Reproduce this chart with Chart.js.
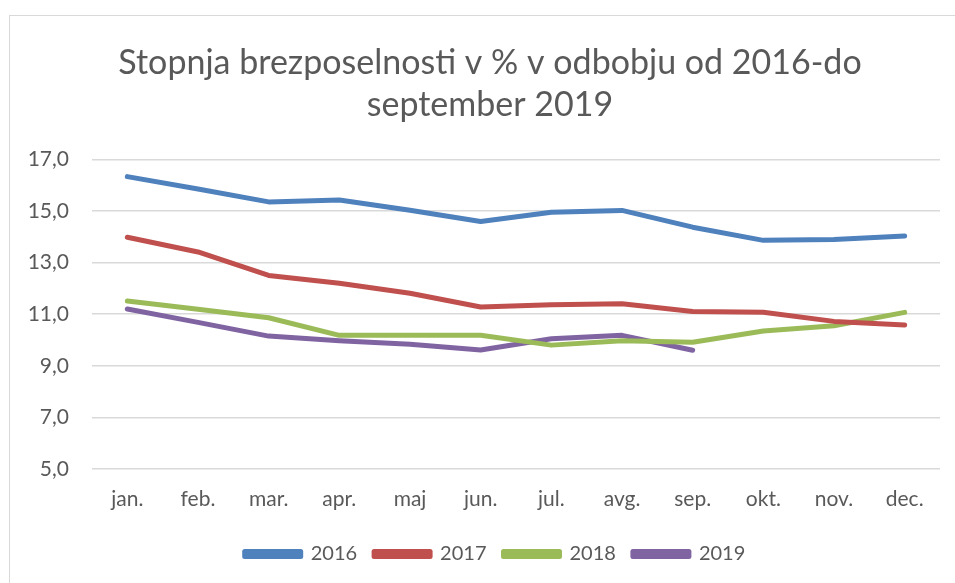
<!DOCTYPE html>
<html>
<head>
<meta charset="utf-8">
<script src="https://cdn.jsdelivr.net/npm/chart.js@4"></script>
<style>
  body { margin: 0; background: #fff; overflow: hidden; }
  #frame {
    position: absolute; left: 9px; top: 15px;
    width: 1000px; height: 600px;
    border: 1px solid #d9d9d9; box-sizing: border-box;
  }
  #myChart { position: absolute; left: 0; top: 0; }
</style>
</head>
<body>
<div id="frame">
  <canvas id="myChart" width="945" height="567"></canvas>
</div>
<script>
const months = ["jan.", "feb.", "mar.", "apr.", "maj", "jun.", "jul.", "avg.", "sep.", "okt.", "nov.", "dec."];

const y2016 = [16.33, 15.85, 15.35, 15.42, 15.03, 14.59, 14.95, 15.02, 14.37, 13.86, 13.89, 14.03];
const y2017 = [13.98, 13.41, 12.50, 12.20, 11.81, 11.28, 11.36, 11.40, 11.10, 11.07, 10.72, 10.58];
const y2018 = [11.51, 11.19, 10.86, 10.18, 10.18, 10.18, 9.80, 9.97, 9.91, 10.35, 10.55, 11.07];
const y2019 = [11.20, 10.68, 10.15, 9.97, 9.83, 9.61, 10.05, 10.18, 9.60];

const yTicks = [5, 7, 9, 11, 13, 15, 17];

const textColor = "#595959";
const fontFamily = "Lato, 'Open Sans', sans-serif";

function series(label, data, color) {
  return {
    label: label,
    data: data,
    borderColor: color,
    backgroundColor: color,
    borderWidth: 5,
    borderCapStyle: "round",
    borderJoinStyle: "round",
    pointRadius: 0,
    tension: 0,
    fill: false,
  };
}

// title and legend in the original sit a bit right of the canvas centre
const shiftBlocks = {
  id: "shiftBlocks",
  afterLayout(chart) {
    chart.legend.left += 20;
    chart.legend.right += 20;
    chart.titleBlock.left += 15;
    chart.titleBlock.right += 15;
  },
};

const ctx = document.getElementById("myChart");

new Chart(ctx, {
  type: "line",
  data: {
    labels: months,
    datasets: [
      series("2016", y2016, "#4f81bd"),
      series("2017", y2017, "#c0504d"),
      series("2018", y2018, "#9bbb59"),
      series("2019", y2019, "#8064a2"),
    ],
  },
  options: {
    responsive: false,
    animation: false,
    layout: { padding: { left: 0, right: 15, top: 0, bottom: 9 } },
    plugins: {
      title: {
        display: true,
        text: ["Stopnja brezposelnosti v % v odbobju od 2016-do", "september 2019"],
        color: textColor,
        font: { family: fontFamily, size: 34, weight: "normal", lineHeight: 1.24 },
        padding: { top: 26, bottom: 33 },
      },
      legend: {
        position: "bottom",
        labels: {
          color: textColor,
          font: { family: fontFamily, size: 20 },
          boxWidth: 56,
          boxHeight: 5,
          padding: 17,
        },
      },
      tooltip: { enabled: false },
    },
    scales: {
      x: {
        offset: true,
        grid: { display: false, drawTicks: false },
        border: { display: false },
        ticks: { color: textColor, font: { family: fontFamily, size: 21 }, padding: 18 },
        afterFit: (axis) => { axis.height = 58; },
      },
      y: {
        min: 5,
        max: 17,
        afterBuildTicks: (axis) => { axis.ticks = yTicks.map((v) => ({ value: v })); },
        grid: { color: "#d9d9d9", lineWidth: 1.5, drawTicks: false },
        border: { display: false },
        ticks: {
          color: textColor,
          font: { family: fontFamily, size: 21 },
          padding: 23,
          callback: (v) => v.toFixed(1).replace(".", ","),
        },
        afterFit: (axis) => { axis.width = 82; },
      },
    },
  },
  plugins: [shiftBlocks],
});
</script>
</body>
</html>
